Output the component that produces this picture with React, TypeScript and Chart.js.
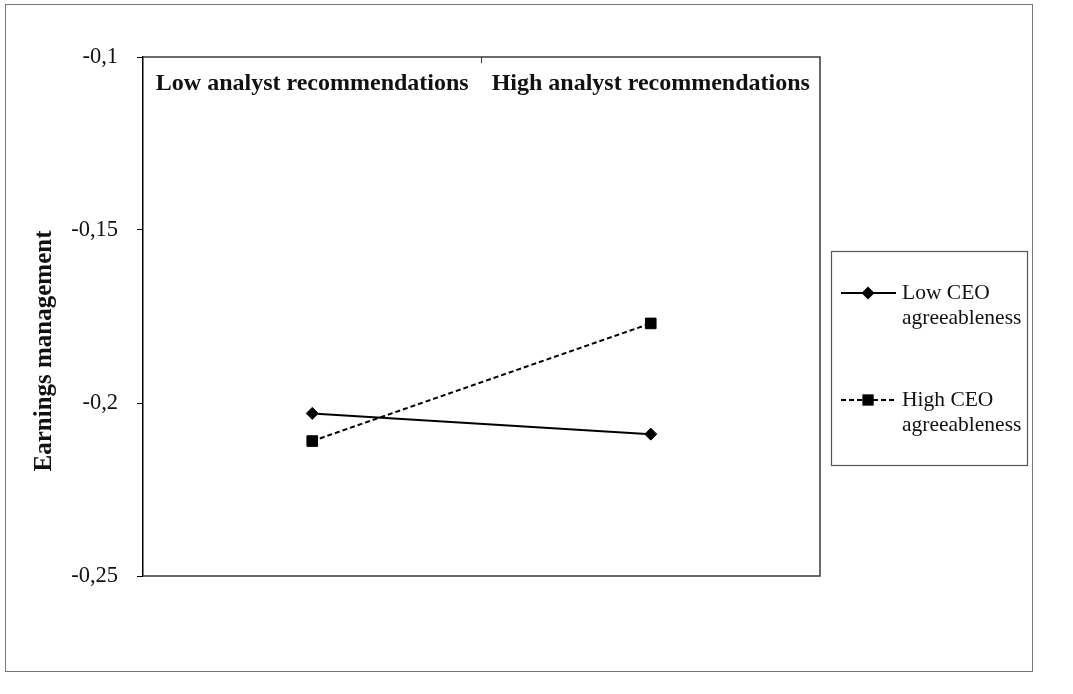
import { useEffect, useRef } from "react"
import { Chart, registerables } from "chart.js"

Chart.register(...registerables)

// Data
const categories = ["Low analyst recommendations", "High analyst recommendations"]
const lowAgreeableness = [-0.203, -0.209]
const highAgreeableness = [-0.211, -0.177]
const yTickValues = [-0.1, -0.15, -0.2, -0.25]
const yTickLabels = ["-0,1", "-0,15", "-0,2", "-0,25"]
const seriesNames = [
  ["Low CEO", "agreeableness"],
  ["High CEO", "agreeableness"],
]
const yTitle = "Earnings management"

const SERIF = "'Liberation Serif', 'Times New Roman', serif"

function drawMarker(ctx: CanvasRenderingContext2D, style: string, x: number, y: number, r: number) {
  ctx.beginPath()
  if (style === "rectRot") {
    ctx.moveTo(x - r, y)
    ctx.lineTo(x, y - r)
    ctx.lineTo(x + r, y)
    ctx.lineTo(x, y + r)
    ctx.closePath()
  } else {
    const s = r * Math.SQRT1_2
    ctx.rect(x - s, y - s, 2 * s, 2 * s)
  }
  ctx.fill()
}

const framePlugin = {
  id: "frame",
  afterDraw(chart: Chart) {
    const { ctx, chartArea: a, scales } = chart
    const xs = scales.x
    ctx.save()

    // plot border (top, right, bottom)
    ctx.strokeStyle = "#3a3a3a"
    ctx.lineWidth = 1.5
    ctx.beginPath()
    ctx.moveTo(a.left, a.top)
    ctx.lineTo(a.right, a.top)
    ctx.lineTo(a.right, a.bottom)
    ctx.lineTo(a.left, a.bottom)
    ctx.stroke()

    // inner tick between the two categories
    const mid = (xs.getPixelForValue(0) + xs.getPixelForValue(1)) / 2
    ctx.lineWidth = 1
    ctx.beginPath()
    ctx.moveTo(mid, a.top)
    ctx.lineTo(mid, a.top + 6)
    ctx.stroke()

    // category labels inside the top of the plot
    ctx.fillStyle = "#111"
    ctx.font = "bold 24px " + SERIF
    ctx.textAlign = "center"
    ctx.textBaseline = "middle"
    categories.forEach((c, i) => ctx.fillText(c, xs.getPixelForValue(i), a.top + 27))

    // y axis title
    ctx.save()
    ctx.font = "bold 25px " + SERIF
    ctx.translate(45, 351)
    ctx.rotate(-Math.PI / 2)
    ctx.fillText(yTitle, 0, 0)
    ctx.restore()

    // legend box
    const lx = 831
    const ly = 251
    ctx.strokeStyle = "#555"
    ctx.lineWidth = 1.2
    ctx.strokeRect(lx + 0.5, ly + 0.5, 196, 214)

    ctx.font = "21.5px " + SERIF
    ctx.textAlign = "left"
    chart.data.datasets.forEach((ds: any, i: number) => {
      const y = ly + 42 + i * 107
      ctx.strokeStyle = ds.borderColor
      ctx.lineWidth = ds.borderWidth
      ctx.setLineDash(ds.borderDash || [])
      ctx.beginPath()
      ctx.moveTo(lx + 10, y)
      ctx.lineTo(lx + 65, y)
      ctx.stroke()
      ctx.setLineDash([])
      ctx.fillStyle = ds.pointBackgroundColor
      drawMarker(ctx, ds.pointStyle, lx + 37, y, ds.pointRadius + 0.5)
      ctx.fillStyle = "#111"
      seriesNames[i].forEach((t, j) => ctx.fillText(t, lx + 71, y + j * 25))
    })

    ctx.restore()
  },
}

export default function App() {
  const chartRef = useRef<HTMLCanvasElement>(null)
  const chartInstance = useRef<Chart | null>(null)

  useEffect(() => {
    document.body.style.margin = "0"
    if (!chartRef.current) return
    if (chartInstance.current) chartInstance.current.destroy()

    chartInstance.current = new Chart(chartRef.current, {
      type: "line",
      data: {
        labels: categories,
        datasets: [
          {
            label: seriesNames[0].join(" "),
            data: lowAgreeableness,
            borderColor: "#000",
            borderWidth: 2,
            pointStyle: "rectRot",
            pointRadius: 6,
            pointBackgroundColor: "#000",
            pointBorderColor: "#000",
            pointBorderWidth: 1,
            tension: 0,
          },
          {
            label: seriesNames[1].join(" "),
            data: highAgreeableness,
            borderColor: "#000",
            borderWidth: 2,
            borderDash: [5, 3],
            pointStyle: "rect",
            pointRadius: 7.5,
            pointBackgroundColor: "#000",
            pointBorderColor: "#000",
            pointBorderWidth: 1,
            tension: 0,
          },
        ],
      },
      options: {
        animation: false,
        responsive: true,
        maintainAspectRatio: false,
        layout: { padding: { left: 30, top: 57, right: 253, bottom: 118 } },
        plugins: {
          legend: { display: false },
          tooltip: { enabled: false },
        },
        scales: {
          x: {
            type: "category",
            display: false,
            offset: true,
          },
          y: {
            min: -0.25,
            max: -0.1,
            afterFit: (scale: any) => {
              scale.width = 113
            },
            afterBuildTicks: (scale: any) => {
              scale.ticks = yTickValues.map((v) => ({ value: v }))
            },
            grid: {
              drawOnChartArea: false,
              color: "#000",
              tickLength: 6,
              lineWidth: 1,
            },
            border: { display: true, color: "#000", width: 1.5 },
            ticks: {
              color: "#111",
              padding: 19,
              font: { family: SERIF, size: 22.5 },
              callback: (_v: any, i: number) => yTickLabels[i],
            },
          },
        },
      },
      plugins: [framePlugin],
    })

    return () => {
      if (chartInstance.current) {
        chartInstance.current.destroy()
        chartInstance.current = null
      }
    }
  }, [])

  return (
    <div style={{ position: "relative", width: 1073, height: 694, background: "#fff" }}>
      <div
        style={{
          position: "absolute",
          left: 5,
          top: 4,
          width: 1028,
          height: 668,
          border: "1.5px solid #777",
          boxSizing: "border-box",
        }}
      />
      <canvas ref={chartRef} style={{ position: "absolute", left: 0, top: 0 }} />
    </div>
  )
}
